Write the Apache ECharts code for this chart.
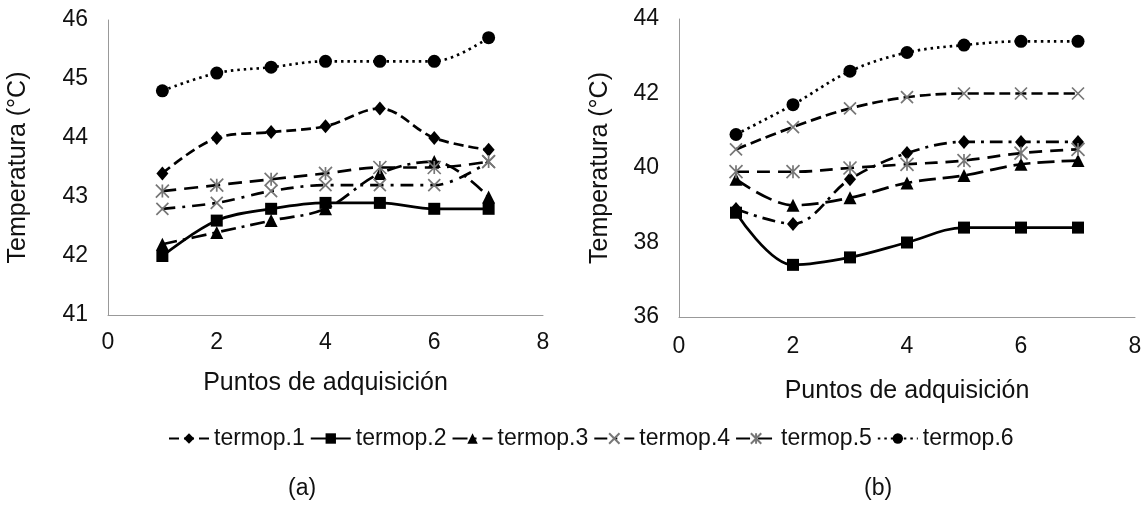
<!DOCTYPE html>
<html>
<head>
<meta charset="utf-8">
<script src="https://cdn.jsdelivr.net/npm/echarts@6/dist/echarts.min.js"></script>
<style>html,body{margin:0;padding:0;background:#fff;}#c{width:1148px;height:507px;}</style>
</head>
<body>
<div id="c"></div>
<script>
const points = [1, 2, 3, 4, 5, 6, 7];
const seriesNames = ['termop.1', 'termop.2', 'termop.3', 'termop.4', 'termop.5', 'termop.6'];
const xTicks = [0, 2, 4, 6, 8];
const leftYTicks = [41, 42, 43, 44, 45, 46];
const rightYTicks = [36, 38, 40, 42, 44];

// (a)
const leftT1 = [43.4, 44.0, 44.1, 44.2, 44.5, 44.0, 43.8];
const leftT2 = [42.0, 42.6, 42.8, 42.9, 42.9, 42.8, 42.8];
const leftT3 = [42.2, 42.4, 42.6, 42.8, 43.4, 43.6, 43.0];
const leftT4 = [42.8, 42.9, 43.1, 43.2, 43.2, 43.2, 43.6];
const leftT5 = [43.1, 43.2, 43.3, 43.4, 43.5, 43.5, 43.6];
const leftT6 = [44.8, 45.1, 45.2, 45.3, 45.3, 45.3, 45.7];

// (b)
const rightT1 = [38.9, 38.5, 39.7, 40.4, 40.7, 40.7, 40.7];
const rightT2 = [38.8, 37.4, 37.6, 38.0, 38.4, 38.4, 38.4];
const rightT3 = [39.7, 39.0, 39.2, 39.6, 39.8, 40.1, 40.2];
const rightT4 = [40.5, 41.1, 41.6, 41.9, 42.0, 42.0, 42.0];
const rightT5 = [39.9, 39.9, 40.0, 40.1, 40.2, 40.4, 40.5];
const rightT6 = [40.9, 41.7, 42.6, 43.1, 43.3, 43.4, 43.4];

const FONT = 'Liberation Sans, Arial, sans-serif';
const X_PATH = 'path://M0,0L10,10M10,0L0,10';
const AST_PATH = 'path://M5,0L5,10M0,0L10,10M10,0L0,10';

const markers = [
  {symbol: 'diamond', size: [12, 14], color: '#000', border: null},
  {symbol: 'rect', size: 12, color: '#000', border: null},
  {symbol: 'triangle', size: 13, color: '#000', border: null},
  {symbol: X_PATH, size: 12, color: 'rgba(0,0,0,0)', border: '#777'},
  {symbol: AST_PATH, size: 13, color: 'rgba(0,0,0,0)', border: '#777'},
  {symbol: 'circle', size: 13, color: '#000', border: null}
];

const leftDash = [[10, 5], 'solid', [15, 6, 3, 6], [13, 7, 3, 7], [14, 8], [2.5, 4]];
const rightDash = [[13, 6, 3, 6], 'solid', [17, 7], [11, 5], [13, 8], [2.5, 4]];

function zip(vals) { return points.map((p, i) => [p, vals[i]]); }

function mk(idx, vals, dash, axis) {
  const m = markers[idx];
  return {
    name: seriesNames[idx],
    type: 'line',
    xAxisIndex: axis, yAxisIndex: axis,
    data: zip(vals),
    smooth: 0.35,
    symbol: m.symbol,
    symbolSize: m.size,
    symbolKeepAspect: true,
    showAllSymbol: true,
    lineStyle: {color: '#000', width: 2.7, type: dash},
    itemStyle: m.border
      ? {color: m.color, borderColor: m.border, borderWidth: 1.7}
      : {color: m.color, borderWidth: 0},
    emphasis: {disabled: true},
    z: idx === 1 ? 3 : 2
  };
}

const leftSets = [leftT1, leftT2, leftT3, leftT4, leftT5, leftT6];
const rightSets = [rightT1, rightT2, rightT3, rightT4, rightT5, rightT6];
const series = [];
leftSets.forEach((v, i) => series.push(mk(i, v, leftDash[i], 0)));
rightSets.forEach((v, i) => series.push(mk(i, v, rightDash[i], 1)));

function xAxis(grid) {
  return {
    type: 'value', gridIndex: grid, min: xTicks[0], max: xTicks[xTicks.length - 1], interval: 2,
    name: 'Puntos de adquisición', nameLocation: 'middle', nameGap: grid === 0 ? 56 : 62,
    nameTextStyle: {fontFamily: FONT, fontSize: 25, color: '#111'},
    axisLine: {show: true, lineStyle: {color: '#999', width: 1}},
    axisTick: {show: false}, splitLine: {show: false},
    axisLabel: {fontFamily: FONT, fontSize: 23, color: '#111', margin: grid === 0 ? 16 : 18}
  };
}
function yAxis(grid, ticks) {
  return {
    type: 'value', gridIndex: grid, min: ticks[0], max: ticks[ticks.length - 1],
    interval: ticks[1] - ticks[0],
    name: 'Temperatura (°C)', nameLocation: 'middle', nameGap: grid === 0 ? 77 : 66,
    nameTextStyle: {fontFamily: FONT, fontSize: 25, color: '#111'},
    axisLine: {show: true, lineStyle: {color: '#999', width: 1}},
    axisTick: {show: false}, splitLine: {show: false},
    axisLabel: {fontFamily: FONT, fontSize: 23, color: '#111', margin: 20}
  };
}

const chart = echarts.init(document.getElementById('c'), null, {renderer: 'canvas'});
chart.setOption({
  animation: false,
  backgroundColor: '#fff',
  title: [
    {text: '(a)', left: 288, top: 477, textStyle: {fontFamily: FONT, fontSize: 23, fontWeight: 'normal', color: '#111'}, padding: 0},
    {text: '(b)', left: 864, top: 477, textStyle: {fontFamily: FONT, fontSize: 23, fontWeight: 'normal', color: '#111'}, padding: 0}
  ],
  grid: [
    {left: 108, top: 20, width: 435, height: 295, containLabel: false},
    {left: 679, top: 19, width: 456, height: 298, containLabel: false}
  ],
  xAxis: [xAxis(0), xAxis(1)],
  yAxis: [yAxis(0, leftYTicks), yAxis(1, rightYTicks)],
  legend: {
    data: seriesNames,
    left: 168, top: 427,
    itemWidth: 40, itemHeight: 13, itemGap: 5,
    textStyle: {fontFamily: FONT, fontSize: 23, color: '#111'},
    padding: 0,
    selectedMode: false
  },
  series: series
});
</script>
</body>
</html>
